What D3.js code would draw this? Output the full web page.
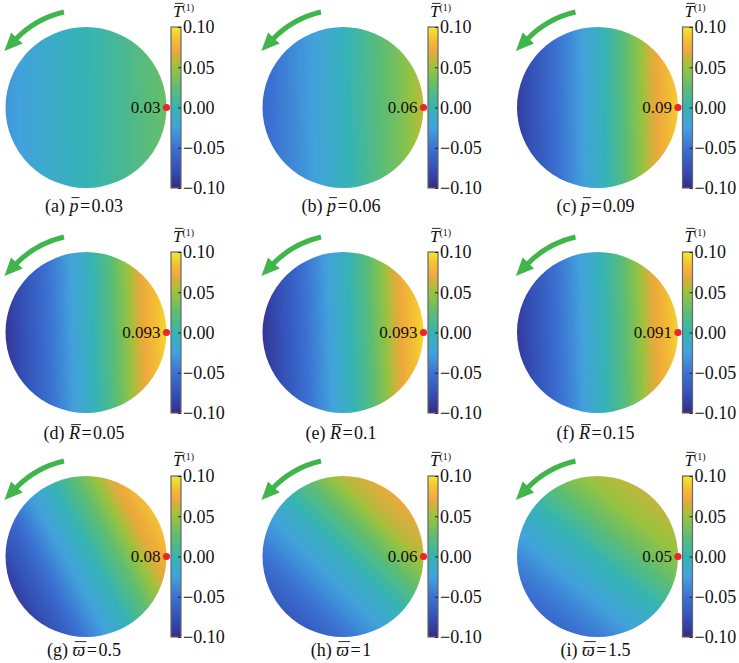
<!DOCTYPE html>
<html>
<head>
<meta charset="utf-8">
<script src="https://cdn.jsdelivr.net/npm/d3@7"></script>
<style>
  body { margin: 0; background: #fff; }
  svg { display: block; }
  text { font-family: 'Liberation Serif', 'DejaVu Serif', serif; }
</style>
</head>
<body>
<svg id="chart"></svg>
<script>
// panel captions
var panelLetters = ['a', 'b', 'c', 'd', 'e', 'f', 'g', 'h', 'i'];
var paramSymbols = ['p', 'p', 'p', 'R', 'R', 'R', 'ϖ', 'ϖ', 'ϖ'];
var paramValues = ['0.03', '0.06', '0.09', '0.05', '0.1', '0.15', '0.5', '1', '1.5'];

// value printed next to the red dot (right-hand point of the disk)
var edgeLabels = ['0.03', '0.06', '0.09', '0.093', '0.093', '0.091', '0.08', '0.06', '0.05'];

// direction in which T increases (degrees, counter-clockwise from +x)
var fieldAngles = [1, 1, 1, 2, 2, 2, 28, 45, 50];

// T read across the disk along that direction, from one edge to the other
var profilePositions = [0, 1 / 6, 2 / 6, 3 / 6, 4 / 6, 5 / 6, 1];
var profileA = [-0.031, -0.020, -0.010, -0.001, 0.009, 0.019, 0.030];
var profileB = [-0.056, -0.040, -0.024, -0.005, 0.015, 0.035, 0.060];
var profileC = [-0.088, -0.064, -0.038, -0.010, 0.022, 0.064, 0.090];
var profileD = [-0.092, -0.068, -0.040, -0.010, 0.022, 0.066, 0.094];
var profileE = [-0.093, -0.069, -0.040, -0.010, 0.022, 0.066, 0.094];
var profileF = [-0.090, -0.066, -0.038, -0.008, 0.023, 0.065, 0.092];
var profileG = [-0.088, -0.064, -0.034, -0.006, 0.024, 0.062, 0.086];
var profileH = [-0.070, -0.049, -0.027, -0.004, 0.023, 0.056, 0.070];
var profileI = [-0.058, -0.040, -0.019, 0.001, 0.026, 0.050, 0.060];
var profiles = [profileA, profileB, profileC, profileD, profileE, profileF, profileG, profileH, profileI];

// colour bar
var colorTickValues = [-0.1, -0.05, 0, 0.05, 0.1];
var colorTickLabels = ['\u22120.10', '\u22120.05', '0.00', '0.05', '0.10'];
var cmapValues = [-0.1, -0.075, -0.05, -0.025, 0, 0.025, 0.05, 0.07, 0.085, 0.1];
var cmapColors = ['#352a87', '#3452b8', '#3b72d2', '#42a2dc', '#35b4b4',
                  '#5dbd72', '#98c33e', '#eda83b', '#f4c033', '#f3e82f'];

// layout
var width = 739;
var height = 663;
var R = 80.5;
var colCx = [86, 343, 597.5];
var rowCy = [107.5, 332.5, 556.5];
var captionY = [212, 439, 656];
var arrowColor = '#3fb54b';

var svg = d3.select('#chart')
  .attr('width', width)
  .attr('height', height);

var defs = svg.append('defs');

var colorScale = d3.scaleLinear()
  .domain(cmapValues)
  .range(cmapColors)
  .interpolate(d3.interpolateRgb);

// stop positions used to paint the gradients (rendering only)
var stopT = d3.range(0, 1.0001, 0.02);

// colour bar gradient, bottom (-0.1) to top (0.1)
var cbarValue = d3.scaleLinear().domain([0, 1]).range([-0.1, 0.1]);
defs.append('linearGradient')
    .attr('id', 'cbar')
    .attr('x1', 0).attr('y1', 1).attr('x2', 0).attr('y2', 0)
  .selectAll('stop')
  .data(stopT)
  .enter()
  .append('stop')
    .attr('offset', d => d)
    .attr('stop-color', d => colorScale(cbarValue(d)));

// arrow head
defs.append('marker')
    .attr('id', 'arrowhead')
    .attr('markerUnits', 'userSpaceOnUse')
    .attr('viewBox', '0 0 18 16')
    .attr('refX', 2)
    .attr('refY', 8)
    .attr('markerWidth', 18)
    .attr('markerHeight', 16)
    .attr('orient', 'auto')
  .append('path')
    .attr('d', 'M0,0 L18,8 L0,16 Z')
    .attr('fill', arrowColor);

// draws a bar over one character of a text element
function overline(parent, textSel, index, fs) {
  var ext = textSel.node().getExtentOfChar(index);
  var base = +textSel.attr('y');
  parent.append('line')
    .attr('x1', ext.x + fs * 0.12)
    .attr('x2', ext.x + ext.width + fs * 0.06)
    .attr('y1', base - fs * 0.8)
    .attr('y2', base - fs * 0.8)
    .attr('stroke', '#111')
    .attr('stroke-width', 0.9);
}

panelLetters.forEach(function(letter, i) {
  var cx = colCx[i % 3];
  var cy = rowCy[Math.floor(i / 3)];
  var theta = fieldAngles[i] * Math.PI / 180;
  var g = svg.append('g');

  // temperature field on the disk
  var profile = d3.scaleLinear().domain(profilePositions).range(profiles[i]);
  defs.append('linearGradient')
      .attr('id', 'field-' + letter)
      .attr('gradientUnits', 'userSpaceOnUse')
      .attr('x1', cx - R * Math.cos(theta))
      .attr('y1', cy + R * Math.sin(theta))
      .attr('x2', cx + R * Math.cos(theta))
      .attr('y2', cy - R * Math.sin(theta))
    .selectAll('stop')
    .data(stopT)
    .enter()
    .append('stop')
      .attr('offset', d => d)
      .attr('stop-color', d => colorScale(profile(d)));

  g.append('circle')
    .attr('cx', cx)
    .attr('cy', cy)
    .attr('r', R)
    .attr('fill', 'url(#field-' + letter + ')');

  // rotation arrow
  var p = d3.path();
  p.arc(cx, cy, 98, -103 * Math.PI / 180, -136 * Math.PI / 180, true);
  g.append('path')
    .attr('d', p.toString())
    .attr('fill', 'none')
    .attr('stroke', arrowColor)
    .attr('stroke-width', 5)
    .attr('marker-end', 'url(#arrowhead)');

  // colour bar
  var cbX = cx + R + 4.5;
  var yScale = d3.scaleLinear().domain([-0.1, 0.1]).range([cy + R, cy - R]);
  g.append('rect')
    .attr('x', cbX)
    .attr('y', yScale(0.1))
    .attr('width', 10)
    .attr('height', yScale(-0.1) - yScale(0.1))
    .attr('fill', 'url(#cbar)')
    .attr('stroke', '#666')
    .attr('stroke-width', 1.2);

  var yAxis = d3.axisRight(yScale)
    .tickValues(colorTickValues)
    .tickFormat((d, j) => colorTickLabels[j])
    .tickSize(-3)
    .tickPadding(2);

  var ax = g.append('g')
    .attr('transform', 'translate(' + (cbX + 10) + ',0)')
    .call(yAxis);
  ax.select('.domain').remove();
  ax.selectAll('line').attr('stroke', '#222');
  ax.selectAll('text')
    .attr('fill', '#111')
    .attr('font-family', null)
    .attr('font-size', 18);

  // colour bar title
  var title = g.append('text')
    .attr('x', cbX + 2)
    .attr('y', cy - R - 10)
    .attr('font-size', 17)
    .attr('fill', '#111');
  title.append('tspan').attr('font-style', 'italic').text('T');
  title.append('tspan').attr('dy', -6).attr('font-size', 10).text('(1)');
  overline(g, title, 0, 17);

  // red dot and its value
  g.append('circle')
    .attr('cx', cx + R)
    .attr('cy', cy)
    .attr('r', 3.6)
    .attr('fill', '#e8262c');

  g.append('text')
    .attr('x', cx + R - 6)
    .attr('y', cy)
    .attr('dy', '0.35em')
    .attr('text-anchor', 'end')
    .attr('fill', '#111')
    .attr('font-size', 17)
    .text(edgeLabels[i]);

  // caption
  var cap = g.append('text')
    .attr('x', cx - 2)
    .attr('y', captionY[Math.floor(i / 3)])
    .attr('text-anchor', 'middle')
    .attr('fill', '#111')
    .attr('font-size', 18);
  cap.append('tspan').text('(' + letter + ') ');
  cap.append('tspan').attr('font-style', 'italic').text(paramSymbols[i]);
  cap.append('tspan').text('\u200a=\u200a' + paramValues[i]);
  overline(g, cap, 4, 18);
});
</script>
</body>
</html>
